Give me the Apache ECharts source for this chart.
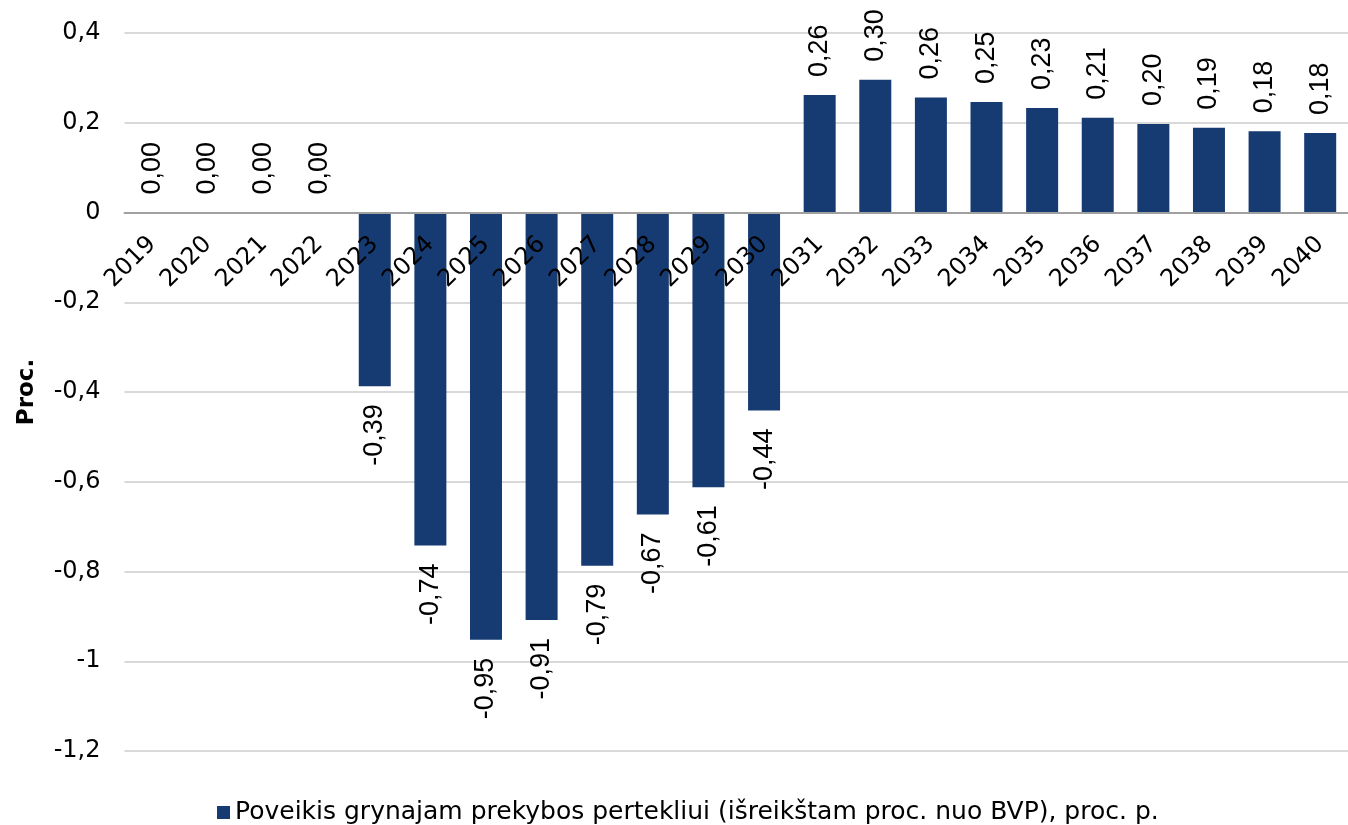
<!DOCTYPE html>
<html>
<head>
<meta charset="utf-8">
<script src="https://cdn.jsdelivr.net/npm/echarts@6/dist/echarts.min.js"></script>
<style>
  html, body { margin: 0; padding: 0; background: #fff; }
  #chart { width: 1348px; height: 825px; }
</style>
</head>
<body>
<div id="chart"></div>
<script>
// duomenys
let years = ['2019','2020','2021','2022','2023','2024','2025','2026','2027','2028','2029',
  '2030','2031','2032','2033','2034','2035','2036','2037','2038','2039','2040'];
let impact = [0, 0, 0, 0, -0.387, -0.742, -0.952, -0.908, -0.787, -0.673, -0.612,
  -0.441, 0.262, 0.296, 0.256, 0.246, 0.233, 0.211, 0.197, 0.189, 0.181, 0.177];
let seriesName = 'Poveikis grynajam prekybos pertekliui (išreikštam proc. nuo BVP), proc. p.';
let yMin = -1.2, yMax = 0.4, yStep = 0.2;

let barColor = '#163b73';
let axisFont = 'DejaVu Sans';
let gridTop = 33, gridH = 718;

function comma(v, digits) {
  let s = digits == null ? String(Math.round(v * 10) / 10) : v.toFixed(digits);
  return s.replace('.', ',');
}

// neigiamiems - etiketė po stulpeliu
let barData = impact.map(function (v) {
  let neg = v < 0;
  return {
    value: v,
    label: {
      position: neg ? 'bottom' : 'top',
      align: neg ? 'right' : 'left'
    }
  };
});

// onZero čia neveikia, tai ašį pakeliam per offset iki nulio
let zeroOffset = -gridH * (0 - yMin) / (yMax - yMin);

let myChart = echarts.init(document.getElementById('chart'));
myChart.setOption({
  animation: false,
  grid: { left: 124.5, top: gridTop, width: 1232, height: gridH },
  legend: {
    data: [seriesName],
    left: 212,
    top: 795,
    itemWidth: 13,
    itemHeight: 13,
    itemGap: 5,
    icon: 'rect',
    textStyle: { fontFamily: axisFont, fontSize: 25, color: '#000' }
  },
  xAxis: {
    type: 'category',
    data: years,
    offset: zeroOffset,
    z: 5, // metai turi būti virš stulpelių
    axisLine: { onZero: false, lineStyle: { color: '#a0a0a0', width: 2 } },
    axisTick: { show: false },
    axisLabel: {
      rotate: 45,
      interval: 0,
      margin: 28,
      fontFamily: axisFont,
      fontSize: 24,
      color: '#000'
    }
  },
  yAxis: {
    type: 'value',
    min: yMin,
    max: yMax,
    interval: yStep,
    name: 'Proc.',
    nameLocation: 'middle',
    nameGap: 86,
    nameTextStyle: { fontFamily: axisFont, fontSize: 23, fontWeight: 'bold', color: '#000' },
    axisLine: { show: false },
    axisTick: { show: false },
    axisLabel: {
      margin: 24,
      fontFamily: axisFont,
      fontSize: 24,
      color: '#000',
      formatter: function (v) { return comma(v); }
    },
    splitLine: { lineStyle: { color: '#d9d9d9', width: 2 } }
  },
  series: [{
    name: seriesName,
    type: 'bar',
    data: barData,
    barWidth: 32,
    itemStyle: { color: barColor },
    label: {
      show: true,
      rotate: 90,
      distance: 18,
      verticalAlign: 'middle',
      fontFamily: 'Liberation Sans',
      fontSize: 27,
      color: '#000',
      formatter: function (p) { return comma(p.value, 2); }
    }
  }]
});
</script>
</body>
</html>
